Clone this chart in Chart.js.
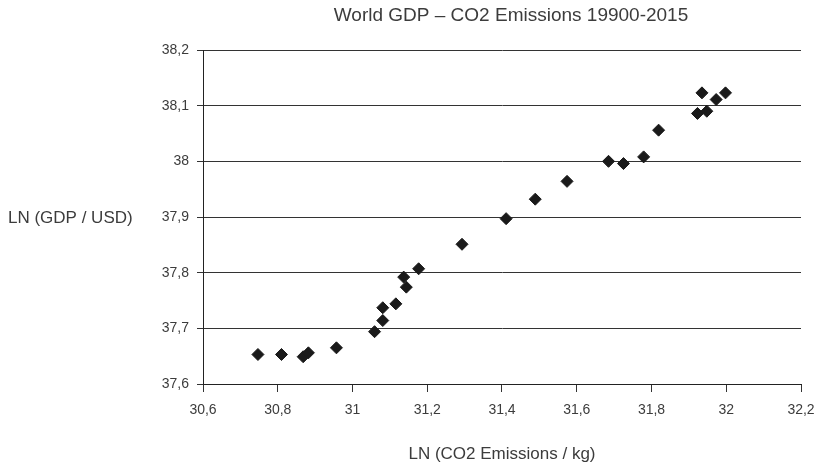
<!DOCTYPE html>
<html>
<head>
<meta charset="utf-8">
<script src="https://cdn.jsdelivr.net/npm/chart.js@4"></script>
<style>
  html, body { margin: 0; padding: 0; background: #fff; }
  #wrap { width: 819px; height: 462px; }
</style>
</head>
<body>
<div id="wrap"><canvas id="c" width="819" height="462"></canvas></div>
<script>
// ---- data ----
const chartTitle = 'World GDP \u2013 CO2 Emissions 19900-2015';
const xAxisTitle = 'LN (CO2 Emissions / kg)';
const yAxisTitle = 'LN (GDP / USD)';
const co2Ln = [30.747, 30.810, 30.868, 30.882, 30.957, 31.059, 31.081, 31.081, 31.116, 31.137, 31.144, 31.177, 31.293, 31.411, 31.489, 31.574, 31.685, 31.725, 31.779, 31.819, 31.923, 31.948, 31.935, 31.973, 31.998];
const gdpLn = [37.653, 37.653, 37.649, 37.656, 37.665, 37.694, 37.714, 37.737, 37.744, 37.792, 37.774, 37.807, 37.851, 37.897, 37.932, 37.964, 38.000, 37.996, 38.008, 38.056, 38.086, 38.090, 38.123, 38.111, 38.123];
const xTickValues = [30.6, 30.8, 31.0, 31.2, 31.4, 31.6, 31.8, 32.0, 32.2];
const yTickValues = [37.6, 37.7, 37.8, 37.9, 38.0, 38.1, 38.2];

const points = co2Ln.map((x, i) => ({ x: x, y: gdpLn[i] }));
const fmt = v => (Math.round(v * 10) / 10).toString().replace('.', ',');
const FONT = '"Liberation Sans", Arial, sans-serif';
const TEXT = '#3c3c3c';

const textPlugin = {
  id: 'textPlugin',
  afterDraw(chart) {
    const ctx = chart.ctx;
    const ca = chart.chartArea;
    ctx.save();
    ctx.fillStyle = TEXT;
    ctx.font = '19px ' + FONT;
    ctx.textAlign = 'center';
    ctx.textBaseline = 'middle';
    ctx.fillText(chartTitle, (ca.left + ca.right) / 2 + 9, 16);
    ctx.font = '17px ' + FONT;
    ctx.textAlign = 'left';
    ctx.fillText(yAxisTitle, 8, (ca.top + ca.bottom) / 2 + 1);
    ctx.restore();
  }
};

new Chart(document.getElementById('c'), {
  type: 'scatter',
  data: {
    datasets: [{
      data: points,
      pointStyle: 'rectRot',
      pointRadius: 6,
      pointBorderWidth: 1,
      backgroundColor: '#1a1a1a',
      borderColor: '#1a1a1a'
    }]
  },
  options: {
    responsive: false,
    devicePixelRatio: 1,
    animation: false,
    layout: { padding: { top: 50, right: 18, bottom: 0, left: 0 } },
    plugins: {
      legend: { display: false },
      tooltip: { enabled: false },
      title: { display: false }
    },
    scales: {
      x: {
        type: 'linear',
        min: 30.6,
        max: 32.2,
        afterBuildTicks: s => { s.ticks = xTickValues.map(v => ({ value: v })); },
        afterFit: s => { s.height = 78; s.paddingLeft = 0; s.paddingRight = 0; },
        ticks: {
          callback: v => fmt(v),
          color: TEXT,
          font: { family: FONT, size: 14 },
          padding: 10,
          maxRotation: 0
        },
        grid: {
          drawOnChartArea: false,
          drawTicks: true,
          tickLength: 8,
          color: '#333',
          lineWidth: 1
        },
        border: { display: true, color: '#222', width: 1 },
        title: {
          display: true,
          text: xAxisTitle,
          color: TEXT,
          font: { family: FONT, size: 17 },
          padding: { top: 0, bottom: -3 }
        }
      },
      y: {
        type: 'linear',
        min: 37.6,
        max: 38.2,
        afterBuildTicks: s => { s.ticks = yTickValues.map(v => ({ value: v })); },
        afterFit: s => { s.width = 203; s.paddingTop = 0; s.paddingBottom = 0; },
        ticks: {
          callback: v => fmt(v),
          color: TEXT,
          font: { family: FONT, size: 14 },
          padding: 8
        },
        grid: {
          drawOnChartArea: true,
          drawTicks: true,
          tickLength: 6,
          color: '#333',
          lineWidth: 1
        },
        border: { display: true, color: '#222', width: 1 }
      }
    }
  },
  plugins: [textPlugin]
});
</script>
</body>
</html>
